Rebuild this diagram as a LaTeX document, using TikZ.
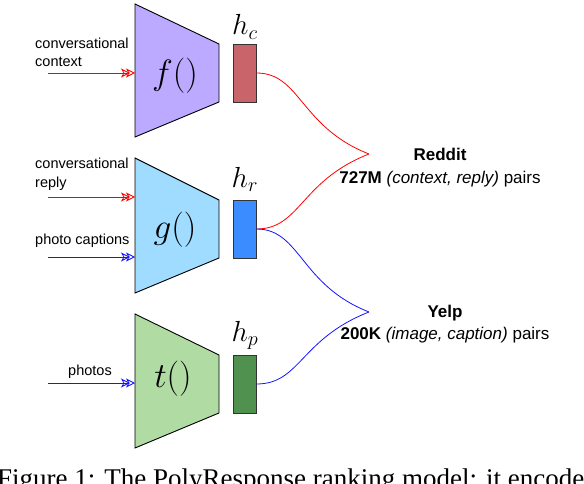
\documentclass[tikz,border=0pt]{standalone}
\usepackage{fontspec}
\setmainfont{Liberation Sans}
\newfontfamily\capfont{Liberation Serif}
\usetikzlibrary{arrows.meta}

\definecolor{fenc}{RGB}{187,170,255}
\definecolor{genc}{RGB}{160,220,255}
\definecolor{tenc}{RGB}{176,220,164}
\definecolor{hcvec}{RGB}{200,100,106}
\definecolor{hrvec}{RGB}{58,140,255}
\definecolor{hpvec}{RGB}{80,145,80}
\definecolor{linkred}{RGB}{255,0,0}
\definecolor{linkblue}{RGB}{20,20,255}

\begin{document}
\begin{tikzpicture}[
        x=1pt, y=-1pt,
        enc/.style={draw, line width=0.9pt, line join=miter},
        vec/.style={rectangle, draw=black!80, line width=0.9pt, minimum width=23pt, minimum height=58pt, inner sep=0pt},
        input/.style={-{Stealth[open,length=9pt,width=9pt,inset=2.5pt,sep=-4pt]Stealth[open,length=9pt,width=9pt,inset=2.5pt]}, line width=0.8pt},
        lbl/.style={font=\fontsize{14.5}{18}\selectfont, align=left, inner sep=0pt},
        fn/.style={font=\fontsize{20.74}{24}\selectfont, inner sep=0pt, scale=1.7, transform shape},
        vname/.style={font=\fontsize{20.74}{24}\selectfont, inner sep=0pt, scale=1.4, transform shape},
        link/.style={line width=0.8pt},
        data/.style={font=\fontsize{17}{22}\selectfont, align=center, inner sep=0pt}
    ]
        \useasboundingbox (0,0) rectangle (584,484);

        % Encoders
        \draw[enc, fill=fenc] (135,4) -- (219,44) -- (219,102) -- (135,137) -- cycle;
        \node[fn] (f) at (175,76) {$f()$};
        \draw[enc, fill=genc] (135,158) -- (219,200) -- (219,258) -- (135,293) -- cycle;
        \node[fn] (g) at (175,230) {$g()$};
        \draw[enc, fill=tenc] (135,314) -- (219,355) -- (219,413) -- (135,448) -- cycle;
        \node[fn] (t) at (173,379) {$t()$};

        % Encodings
        \node[vec, fill=hcvec] (hc) at (244.5,73) {};
        \node[vec, fill=hrvec] (hr) at (244.5,229) {};
        \node[vec, fill=hpvec] (hp) at (244.5,384) {};
        \node[vname, anchor=base] (hclbl) at (245,35) {$h_c$};
        \node[vname, anchor=base] (hrlbl) at (245,187) {$h_r$};
        \node[vname, anchor=base] (hplbl) at (245,341) {$h_p$};

        % Inputs
        \node[lbl, anchor=base west] (ctxlbl) at (35,67) {conversational\\context};
        \node[lbl, anchor=base west] (replbl) at (35,187) {conversational\\reply};
        \node[lbl, anchor=base west] (caplbl) at (35,244) {photo captions};
        \node[lbl, anchor=base] (photolbl) at (90,375) {photos};
        \coordinate (ctxin) at (48,73);
        \coordinate (repin) at (48,197);
        \coordinate (capin) at (48,257);
        \coordinate (photoin) at (48,383);
        \coordinate (fleft) at (135,73);
        \coordinate (gtop) at (135,197);
        \coordinate (gbot) at (135,257);
        \coordinate (tleft) at (135,383);
        \draw[input, linkred] (ctxin) -- (fleft);
        \draw[input, linkred] (repin) -- (gtop);
        \draw[input, linkblue] (capin) -- (gbot);
        \draw[input, linkblue] (photoin) -- (tleft);

        % Training data
        \coordinate (reddit) at (369,154);
        \coordinate (yelp) at (369,312);
        \draw[link, linkred] (hc.east) .. controls +(44,0) and +(-69,-27) .. (reddit);
        \draw[link, linkred] (hr.east) .. controls +(44,0) and +(-69,27) .. (reddit);
        \draw[link, linkblue] (hr.east) .. controls +(44,0) and +(-69,-27) .. (yelp);
        \draw[link, linkblue] (hp.east) .. controls +(44,0) and +(-69,27) .. (yelp);
        \node[data, anchor=base] (redditlbl) at (440,183) {\textbf{Reddit}\\\textbf{727M} \textit{(context, reply)} pairs};
        \node[data, anchor=base] (yelplbl) at (445,339) {\textbf{Yelp}\\\textbf{200K} \textit{(image, caption)} pairs};

        % Caption
        \node[font=\capfont\fontsize{27}{32}\selectfont, anchor=base west, inner sep=0pt] (caption) at (-3,487) {Figure 1: The PolyResponse ranking model: it encode};

    \end{tikzpicture}
\end{document}
